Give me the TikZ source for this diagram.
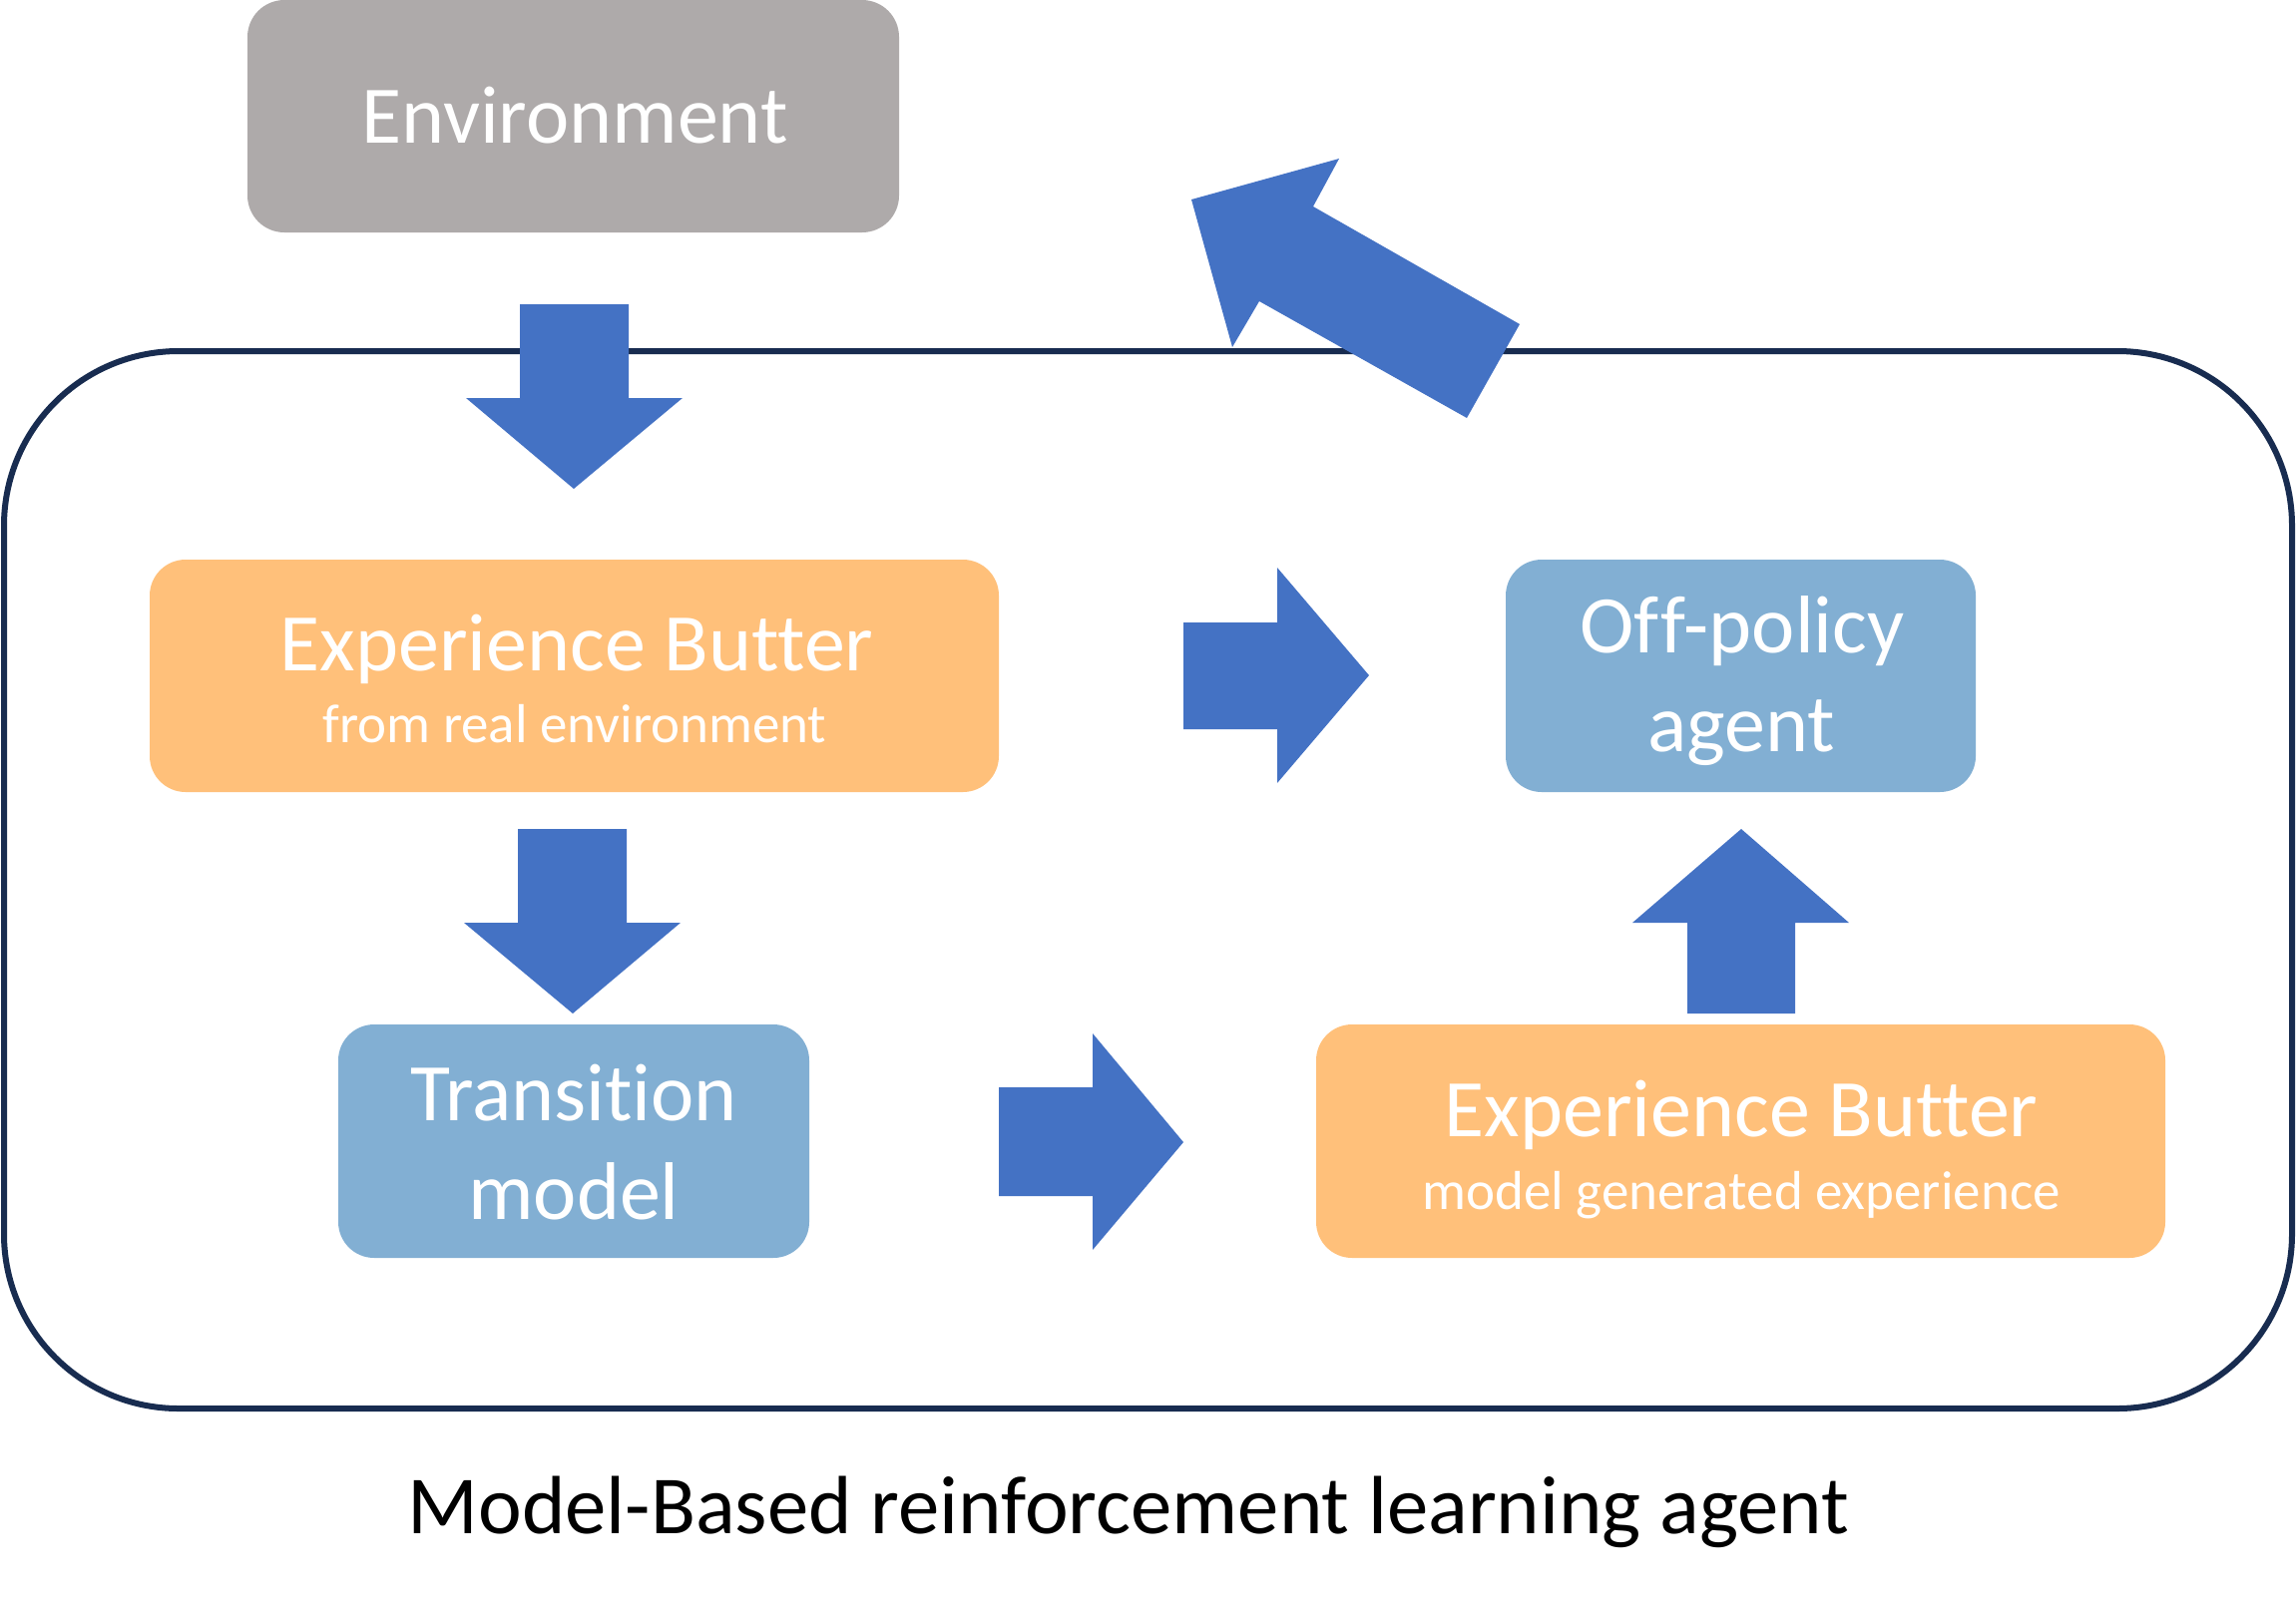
\documentclass[tikz,border=0pt]{standalone}
\usepackage{fontspec}
\setmainfont{Carlito}[Ligatures=NoCommon]
\definecolor{envgray}{HTML}{AEAAAA}
\definecolor{bufor}{HTML}{FFC07A}
\definecolor{ltblue}{HTML}{82AFD3}
\definecolor{arrblue}{HTML}{4472C4}
\definecolor{navy}{HTML}{182C50}
\tikzset{
  big/.style={font=\fontsize{82}{90}\selectfont, text=white, anchor=base, inner sep=0pt},
  small/.style={font=\fontsize{55}{60}\selectfont, text=white, anchor=base, inner sep=0pt},
  blockarrow/.style={fill=arrblue, draw=none},
}
\begin{document}
\begin{tikzpicture}[x=1pt,y=-1pt]
\useasboundingbox (0,0) rectangle (2301,1610);
% outer agent frame
\draw[navy, line width=6pt, rounded corners=175pt] (4,352) rectangle (2297,1412);
% boxes
\fill[envgray, rounded corners=37pt] (248,0) rectangle (901,233);
\coordinate (envc) at (574.5,116.5);
\fill[bufor, rounded corners=36pt] (150,561) rectangle (1001,794);
\coordinate (buf1c) at (575.5,677.5);
\fill[ltblue, rounded corners=36pt] (1509,561) rectangle (1980,794);
\coordinate (offc) at (1744.5,677.5);
\fill[ltblue, rounded corners=36pt] (339,1027) rectangle (811,1261);
\coordinate (tranc) at (575,1144);
\fill[bufor, rounded corners=36pt] (1319,1027) rectangle (2170,1261);
\coordinate (buf2c) at (1744.5,1144);
% texts
\node[big] (envt) at (576,143) {Environment};
\node[big] (buf1t) at (578,672) {Experience Butter};
\node[small] (buf1s) at (576,744) {from real environment};
\node[big] (offt1) at (1746,654) {Of\kern2pt{}f-policy};
\node[big] (offt2) at (1745,753) {agent};
\node[big] (trant1) at (575,1123) {Transition};
\node[big] (trant2) at (575,1222) {model};
\node[big] (buf2t) at (1745,1139) {Experience Butter};
\node[small] (buf2s) at (1745,1212) {model generated experience};
\node[font=\fontsize{82.8}{90}\selectfont, anchor=base, inner sep=0pt] (cap) at (1131,1537) {Model-Based reinforcement learning agent};
% block arrows
\fill[blockarrow] (521,305) -- (630,305) -- (630,399) -- (684,399) -- (575,490) -- (467,399) -- (521,399) -- cycle;
\fill[blockarrow] (519,831) -- (628,831) -- (628,925) -- (682,925) -- (574,1016) -- (465,925) -- (519,925) -- cycle;
\fill[blockarrow] (1186,624) -- (1280,624) -- (1280,569) -- (1372,677) -- (1280,785) -- (1280,731) -- (1186,731) -- cycle;
\fill[blockarrow] (1001,1090) -- (1095,1090) -- (1095,1036) -- (1186,1145) -- (1095,1253) -- (1095,1199) -- (1001,1199) -- cycle;
\fill[blockarrow] (1691,1016) -- (1691,925) -- (1636,925) -- (1745,831) -- (1853,925) -- (1799,925) -- (1799,1016) -- cycle;
\fill[blockarrow] (1194,200) -- (1342,159) -- (1316,207) -- (1523,325) -- (1470,419) -- (1262,302) -- (1235,348) -- cycle;
\end{tikzpicture}
\end{document}
